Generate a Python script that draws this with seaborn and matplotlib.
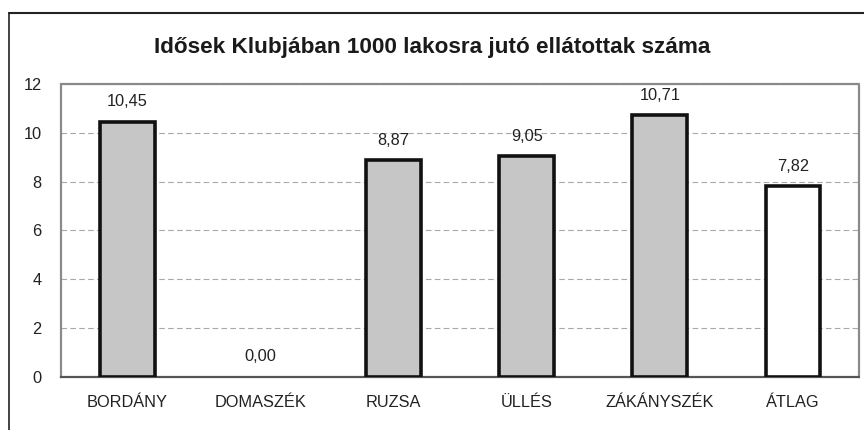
import pandas as pd
import seaborn as sns
import matplotlib.pyplot as plt
from matplotlib.lines import Line2D

# Adatok
telepulesek = ["BORDÁNY", "DOMASZÉK", "RUZSA", "ÜLLÉS", "ZÁKÁNYSZÉK", "ÁTLAG"]
ertekek = [10.45, 0.00, 8.87, 9.05, 10.71, 7.82]
cim = "Idősek Klubjában 1000 lakosra jutó ellátottak száma"

df = pd.DataFrame({"telepules": telepulesek, "ertek": ertekek})

sns.set_style("white")
plt.rcParams["font.family"] = ["Liberation Sans", "DejaVu Sans"]

fig = plt.figure(figsize=(8.64, 4.3), dpi=100)
ax = fig.add_axes([0.0706, 0.1233, 0.924, 0.6814])

# Oszlopok: a települések szürkék, az átlag fehér
szinek = ["#c6c6c6"] * (len(telepulesek) - 1) + ["#ffffff"]
sns.barplot(data=df, x="telepules", y="ertek", hue="telepules", palette=szinek,
            legend=False, width=0.41, edgecolor="#111111", linewidth=2.6,
            saturation=1, ax=ax, zorder=3)

# a nulla magasságú oszlop ne látszódjon
for p in ax.patches:
    if p.get_height() == 0:
        p.set_linewidth(0)

# Értékfeliratok vesszővel
for cont in ax.containers:
    ax.bar_label(cont, labels=[f"{v:.2f}".replace(".", ",") for v in cont.datavalues],
                 padding=9, fontsize=11.8, color="#222222")

ax.set_ylim(0, 12)
ax.set_yticks(range(0, 13, 2))
ax.set_xlabel("")
ax.set_ylabel("")
ax.tick_params(axis="both", length=0, labelsize=11.8, colors="#222222")
ax.tick_params(axis="x", pad=13)
ax.tick_params(axis="y", pad=14)

# Rácsvonalak
ax.yaxis.grid(True, color="#a8a8a8", linestyle=(0, (5, 3)), linewidth=0.8, zorder=0)
for s in ax.spines.values():
    s.set_visible(True)
    s.set_color("#8a8a8a")
    s.set_linewidth(1.6)
    s.set_linestyle((0, (1, 1)))
ax.spines["bottom"].set_color("#555555")

fig.text(0.5, 0.89, cim, ha="center", va="center", fontsize=16.2,
         fontweight="bold", color="#1a1a1a")

# Külső keret (felső és bal oldali vonal)
fig.add_artist(Line2D([0.01, 1.0], [0.97, 0.97], color="#222222", linewidth=1.5))
fig.add_artist(Line2D([0.0105, 0.0105], [0.0, 0.97], color="#222222", linewidth=1.2))

plt.savefig("out.png", dpi=100)
